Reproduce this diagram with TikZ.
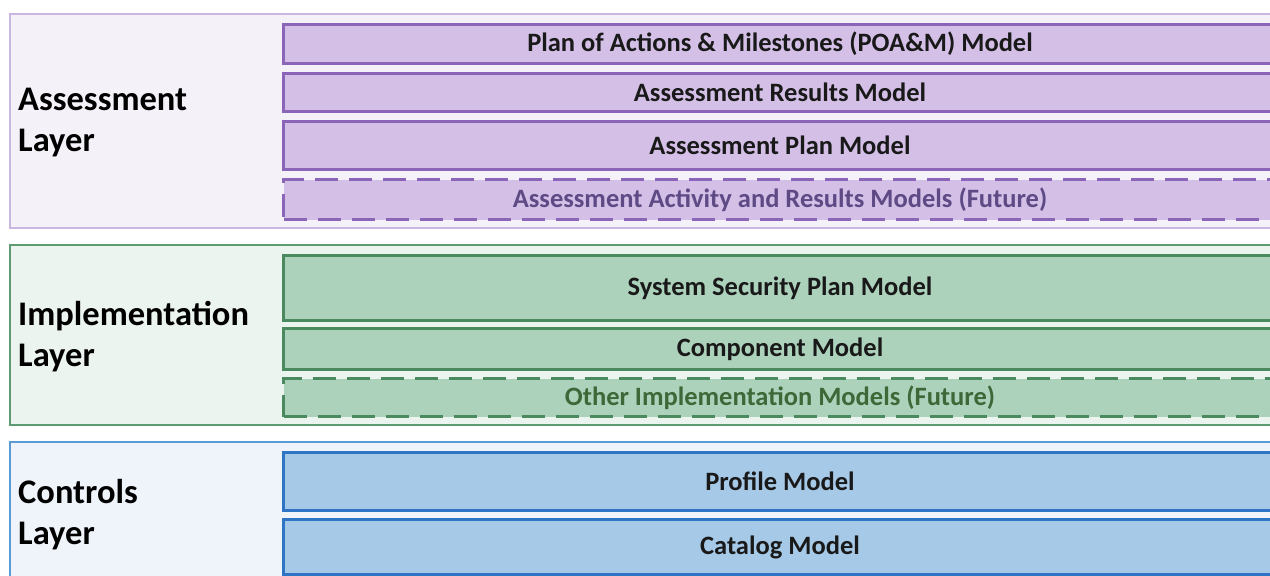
\documentclass[tikz,border=0pt]{standalone}
\usepackage{fontspec}
\setmainfont{Carlito}
\begin{document}
\definecolor{asmBg}{HTML}{F5F1F9}
\definecolor{asmEdge}{HTML}{C9B7E1}
\definecolor{asmFill}{HTML}{D4C0E7}
\definecolor{asmLine}{HTML}{8A65B8}
\definecolor{asmFut}{HTML}{5E4A84}
\definecolor{impBg}{HTML}{ECF4EF}
\definecolor{impEdge}{HTML}{5E9A72}
\definecolor{impFill}{HTML}{ADD2BC}
\definecolor{impLine}{HTML}{4A8A5E}
\definecolor{impFut}{HTML}{3D6838}
\definecolor{ctlBg}{HTML}{EEF4FA}
\definecolor{ctlEdge}{HTML}{5B9BD5}
\definecolor{ctlFill}{HTML}{A7C9E8}
\definecolor{ctlLine}{HTML}{2E75C6}
\begin{tikzpicture}[x=1pt,y=-1pt,
  layerbox/.style={draw=#1Edge, fill=#1Bg, line width=1.6pt},
  layerlabel/.style={anchor=west, align=left, inner sep=0pt,
    font=\fontsize{34.5}{41}\selectfont\bfseries, text=black},
  model/.style={draw=#1Line, fill=#1Fill, line width=3pt, anchor=north west,
    minimum width=993pt, inner sep=0pt,
    font=\fontsize{26.5}{30}\selectfont\bfseries, text=black!90},
  future/.style={model=#1, dash pattern=on 23pt off 11pt, text=#1Fut}]
\useasboundingbox (0,0) rectangle (1270,576);
\begin{scope}
\clip (0,0) rectangle (1270,576);
% layer frames
\node[layerbox=asm, anchor=north west, minimum width=1290pt, minimum height=214pt] (asmlayer) at (9,13) {};
\node[layerbox=imp, anchor=north west, minimum width=1290pt, minimum height=180pt] (implayer) at (9,244) {};
\node[layerbox=ctl, anchor=north west, minimum width=1290pt, minimum height=160pt] (ctllayer) at (9,441) {};
% layer names
\node[layerlabel] (asmname) at (18,123) {Assessment\\Layer};
\node[layerlabel] (impname) at (18,337) {Implementation\\Layer};
\node[layerlabel] (ctlname) at (18,515) {Controls\\Layer};
% assessment layer models
\node[model=asm, minimum height=39pt] (poam) at (282,23) {Plan of Actions \& Milestones (POA\&M) Model};
\node[model=asm, minimum height=38pt] (results) at (282,72) {Assessment Results Model};
\node[model=asm, minimum height=48pt] (plan) at (282,120) {Assessment Plan Model};
\node[future=asm, minimum height=40pt] (asmfuture) at (282,178) {Assessment Activity and Results Models (Future)};
% implementation layer models
\node[model=imp, minimum height=65pt] (ssp) at (282,254) {System Security Plan Model};
\node[model=imp, minimum height=41pt] (component) at (282,327) {Component Model};
\node[future=imp, minimum height=38pt] (impfuture) at (282,377) {Other Implementation Models (Future)};
% controls layer models
\node[model=ctl, minimum height=58pt] (profile) at (282,451) {Profile Model};
\node[model=ctl, minimum height=55pt] (catalog) at (282,518) {Catalog Model};
\end{scope}
\end{tikzpicture}
\end{document}
